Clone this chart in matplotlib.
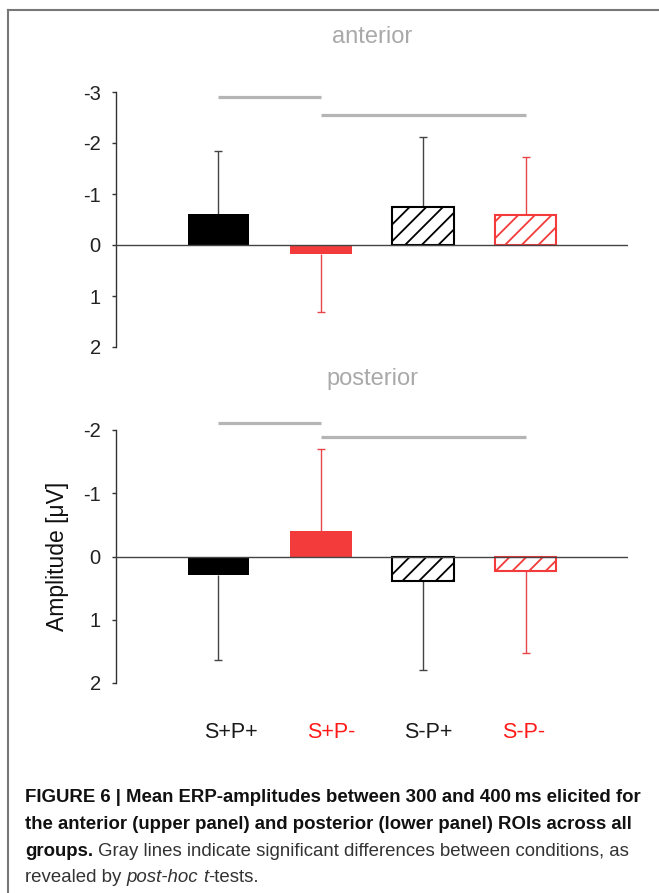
import matplotlib
matplotlib.use("Agg")
import matplotlib.pyplot as plt
from matplotlib import font_manager
from matplotlib.lines import Line2D
from matplotlib.transforms import blended_transform_factory

# data (y axis is inverted: negative up)
conditions = ["S+P+", "S+P-", "S-P+", "S-P-"]
anterior_mean = [-0.61, 0.18, -0.75, -0.59]
anterior_err = [1.24, 1.13, 1.37, 1.14]
posterior_mean = [0.29, -0.41, 0.38, 0.23]
posterior_err = [1.34, 1.29, 1.41, 1.29]
# significance lines: (from condition, to condition, level)
anterior_sig = [(0, 1, -2.9), (1, 3, -2.54)]
posterior_sig = [(0, 1, -2.11), (1, 3, -1.89)]
anterior_ticks = [-3, -2, -1, 0, 1, 2]
posterior_ticks = [-2, -1, 0, 1, 2]

bar_colors = ["black", "#f43b3b", "black", "#f43b3b"]
err_colors = ["#444444", "#e8474a", "#444444", "#e8474a"]
label_colors = ["#1a1a1a", "#ff1a1a", "#1a1a1a", "#ff1a1a"]
hatched = [False, False, True, True]
label_shift = [0.12, 1.1, 2.05, 2.98]

plt.rcParams['font.family'] = ['Liberation Sans', 'DejaVu Sans']
plt.rcParams['hatch.linewidth'] = 1.3

names = {f.name for f in font_manager.fontManager.ttflist}
capfont = 'Liberation Sans Narrow' if 'Liberation Sans Narrow' in names else 'Liberation Sans'

W, H = 659, 893
fig = plt.figure(figsize=(W/100, H/100), dpi=100)

def draw_panel(rect, means, errs, sig, ticks, title, title_y):
    ax = fig.add_axes(rect)
    cap = 0.04
    for i, m in enumerate(means):
        # one-sided error bar, pointing away from zero
        end = m + errs[i] if m >= 0 else m - errs[i]
        ax.vlines(i, m, end, color=err_colors[i], lw=1, zorder=1)
        ax.hlines(end, i - cap, i + cap, color=err_colors[i], lw=1, zorder=1)
        if hatched[i]:
            ax.bar(i, m, width=0.6, color='white', edgecolor=bar_colors[i],
                   hatch='//', linewidth=1.5, zorder=2)
        else:
            ax.bar(i, m, width=0.6, color=bar_colors[i], linewidth=0, zorder=2)
    ax.axhline(0, color='#444444', lw=1, zorder=3)
    for a, b, lev in sig:
        ax.plot([a, b], [lev, lev], color='#b5b5b5', lw=2.3, clip_on=False,
                solid_capstyle='butt')
    ax.set_xlim(-1, 4)
    ax.set_ylim(ticks[-1], ticks[0])
    ax.set_yticks(ticks)
    ax.set_yticklabels([str(t) for t in ticks], fontsize=14.5, color='#222222')
    ax.tick_params(axis='y', direction='out', length=3, width=1, color='#333333', pad=8)
    ax.set_xticks([])
    for s in ['top', 'right', 'bottom']:
        ax.spines[s].set_visible(False)
    ax.spines['left'].set_color('#333333')
    ax.spines['left'].set_linewidth(1)
    fig.text(372/W, 1 - title_y/H, title, color='#a9a9a9', fontsize=17,
             ha='center', va='center')
    return ax

ax1 = draw_panel([116/W, 1 - 347/H, 512/W, 255/H], anterior_mean, anterior_err,
                 anterior_sig, anterior_ticks, "anterior", 37)
ax2 = draw_panel([116/W, 1 - 683/H, 512/W, 253/H], posterior_mean, posterior_err,
                 posterior_sig, posterior_ticks, "posterior", 379)

ax2.set_ylabel("Amplitude [μV]", fontsize=16.5, color='#111111')
ax2.yaxis.set_label_coords(-(116-69)/512, 0.5)

trans = blended_transform_factory(ax2.transData, fig.transFigure)
for i, lab in enumerate(conditions):
    ax2.text(label_shift[i], 1 - 732/H, lab, transform=trans, ha='center', va='center',
             fontsize=15.5, color=label_colors[i])

# frame lines of the figure page
fig.add_artist(Line2D([8/W, 1], [1 - 10/H, 1 - 10/H], color='#777777', lw=1.5))
fig.add_artist(Line2D([8/W, 8/W], [0, 1 - 10/H], color='#777777', lw=1.5))

# caption, pieces chained on each line
caption = [
    [("FIGURE 6 | Mean ERP-amplitudes between 300 and 400\u2009ms elicited for", 'bold', 'normal')],
    [("the anterior (upper panel) and posterior (lower panel) ROIs across all", 'bold', 'normal')],
    [("groups.", 'bold', 'normal'),
     (" Gray lines indicate significant differences between conditions, as", 'normal', 'normal')],
    [("revealed by ", 'normal', 'normal'), ("post-hoc", 'normal', 'italic'),
     (" ", 'normal', 'normal'), ("t", 'normal', 'italic'), ("-tests.", 'normal', 'normal')],
]
y0 = 806
for k, pieces in enumerate(caption):
    prev = None
    for txt, weight, style in pieces:
        col = '#111111' if weight == 'bold' else '#333333'
        kw = dict(fontsize=13.4, fontweight=weight, fontstyle=style, color=col,
                  family=[capfont, 'DejaVu Sans'], ha='left', va='bottom')
        if prev is None:
            prev = fig.text(25/W, 1 - (y0 + 26.8*k)/H, txt, **kw)
        else:
            prev = fig.add_artist(plt.Annotation(txt, xy=(1, 0), xycoords=prev, **kw))

fig.savefig("out.png", dpi=100)
